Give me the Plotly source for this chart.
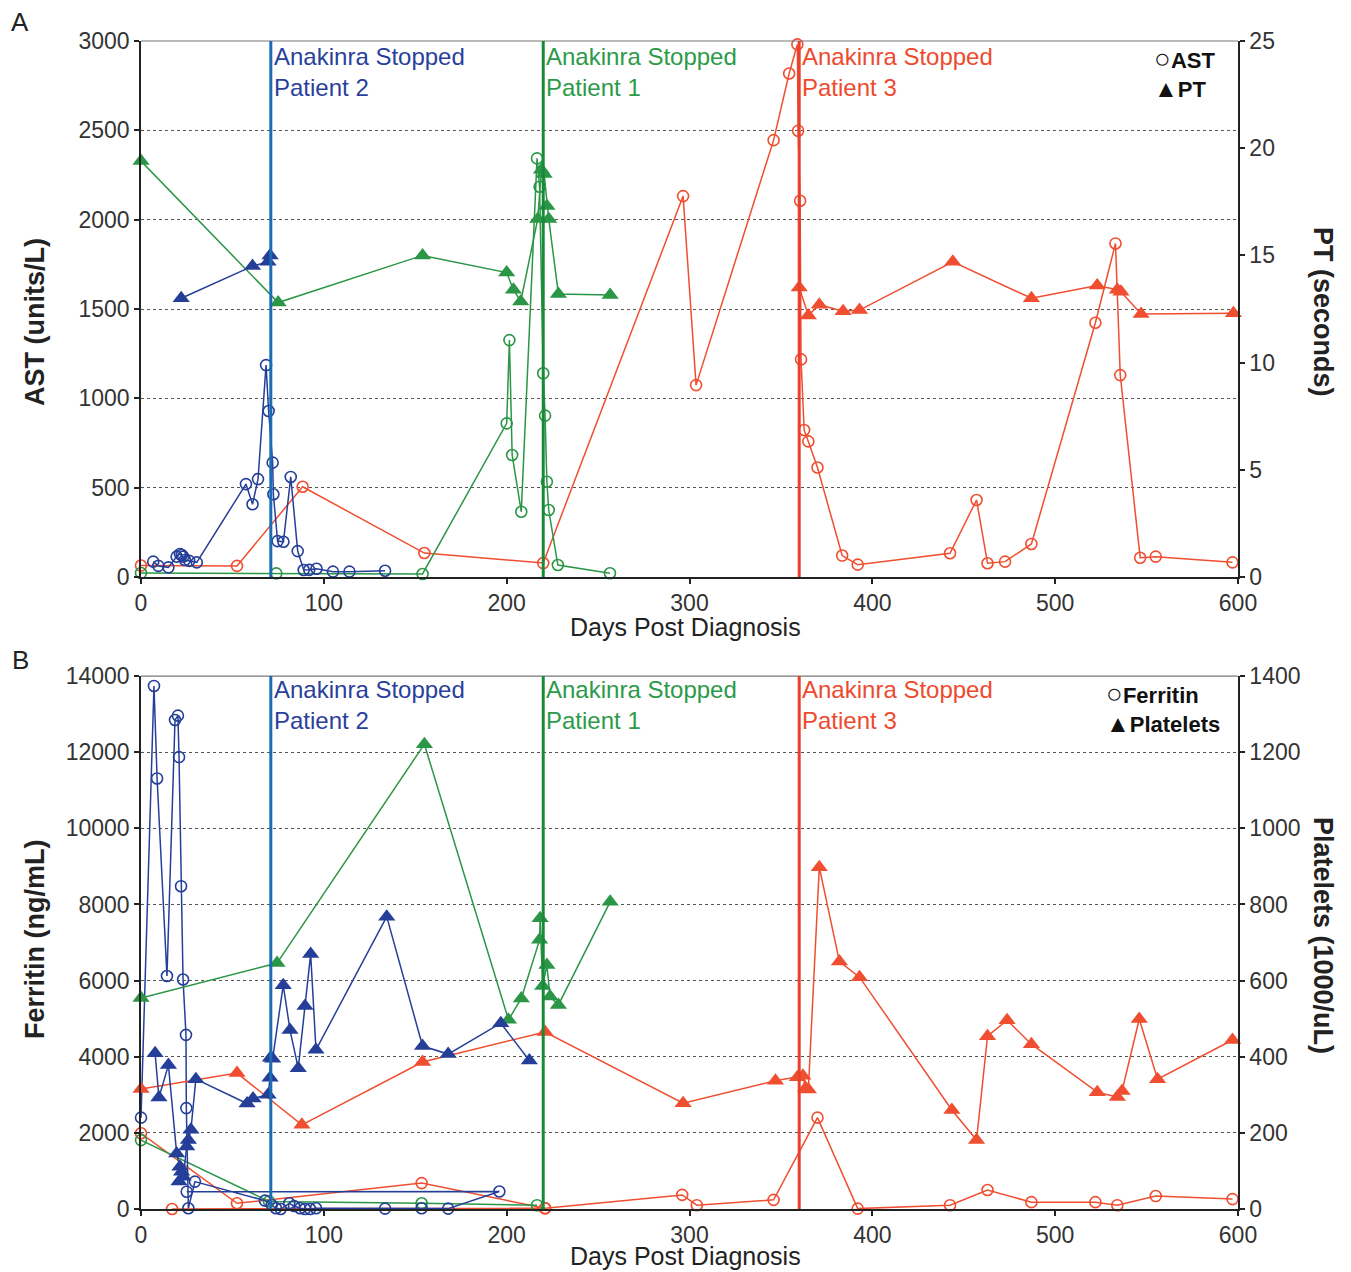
import plotly.graph_objects as go

# ---------------- DATA ----------------
# Days when Anakinra was stopped (Patient 2, Patient 1, Patient 3)
stop_days = [71, 220, 360]
stop_labels = ["Anakinra Stopped<br>Patient 2", "Anakinra Stopped<br>Patient 1", "Anakinra Stopped<br>Patient 3"]

# Panel A - AST (units/L) and PT (seconds)
p2_ast_days = [6.7, 9.5, 15, 19.5, 21.3, 22.3, 23.1, 24, 26.4, 30.5, 57.4, 61, 64, 68.4, 69.8, 72, 72.4,
               74.7, 77.9, 81.9, 85.7, 89, 92, 96, 105, 114, 133.5]
p2_ast = [86, 62, 54, 114, 129, 123, 114, 95, 90, 82, 520, 407, 548, 1186, 929, 640, 463,
          201, 197, 560, 145, 39, 40, 46, 30, 30, 35]
p2_pt_days = [22, 61, 69.5, 70.6]
p2_pt = [13.0, 14.5, 14.7, 15.0]

p1_ast_days = [0, 74, 154, 200, 201.5, 203, 208, 216.6, 218, 220, 221, 222, 223, 228, 256.5]
p1_ast = [22, 20, 17, 860, 1326, 683, 365, 2343, 2184, 1140, 903, 533, 375, 67, 21]
p1_pt_days = [0, 75, 154, 200, 203.7, 207.7, 217, 219, 220.5, 222, 223, 228.3, 256.6]
p1_pt = [19.4, 12.8, 15.0, 14.2, 13.4, 12.85, 16.7, 19.0, 18.8, 17.3, 16.7, 13.2, 13.15]

p3_ast_days = [0, 52.5, 88.4, 155, 220, 296.5, 303.6, 346, 354.5, 359, 359.4, 360.5, 361, 362.7, 365,
               370, 383.5, 392, 442.5, 457, 463, 472.6, 487, 522, 533, 535.6, 546.5, 555, 597]
p3_ast = [64, 62, 505, 134, 78, 2132, 1074, 2445, 2818, 2981, 2498, 2106, 1218, 823, 759,
          613, 120, 69, 133, 431, 77, 86, 185, 1423, 1867, 1130, 108, 114, 82]
p3_pt_days = [360, 365, 371, 384, 393, 444, 487, 523, 534, 536, 547, 597.5]
p3_pt = [13.5, 12.2, 12.7, 12.4, 12.45, 14.7, 13.0, 13.6, 13.4, 13.3, 12.27, 12.3]

# Panel B - Ferritin (ng/mL) and Platelets (1000/uL)
p2_fer_days = [0, 7.1, 8.8, 14.2, 18.6, 20.2, 20.8, 21.9, 23, 24.6, 24.8, 25.9, 29.5, 67.8, 71.5, 73.8,
               76.4, 81.1, 83.7, 87, 89.7, 92.5, 95.7, 133.5, 153.5, 168, 196, 25]
p2_fer = [2400, 13740, 11310, 6120, 12845, 12960, 11870, 8480, 6030, 4575, 2650, 20, 720, 220, 105, 20,
          0, 150, 80, 20, 0, 0, 20, 10, 20, 10, 460, 455]
p2_plt_days = [7.7, 9.8, 15, 19.5, 21.3, 20.8, 22.2, 23.1, 25, 25.9, 27.3, 30, 58, 61.3, 69.5, 70.6,
               70.8, 72, 77.8, 81.5, 86, 89.7, 92.8, 95.7, 134.4, 154, 168, 196.8, 212.4]
p2_plt = [409, 293, 378, 146, 111, 72, 98, 85, 164, 181, 208, 341, 277, 290, 300, 345,
          397, 395, 588, 470, 370, 533, 670, 418, 768, 428, 407, 488, 390]

p1_fer_days = [0, 70, 153.5, 216.6]
p1_fer = [1810, 200, 150, 100]
p1_plt_days = [0, 74.4, 155, 201, 208, 218, 218.3, 219.7, 222, 223.7, 228.3, 256.6]
p1_plt = [554, 646, 1221, 497, 553, 707, 764, 586, 641, 558, 536, 807]

p3_fer_days = [0, 52.5, 153.5, 221, 17, 221, 296, 304, 346, 370, 392, 442.5, 463, 487, 522, 534, 555, 597]
p3_fer = [1990, 150, 680, 20, 0, 20, 370, 100, 240, 2400, 10, 100, 500, 180, 180, 100, 340, 260]
p3_plt_days = [0, 52.5, 88, 154, 221, 296.5, 347, 359, 362, 363.5, 365, 371, 382, 393, 443.5, 457,
               463, 473.7, 487, 523, 534, 536.6, 546, 556, 597]
p3_plt = [315, 357, 221, 386, 465, 278, 337, 346, 350, 318, 314, 898, 650, 609, 260, 181,
          454, 496, 433, 307, 294, 310, 499, 341, 444]

x_ticks = [0, 100, 200, 300, 400, 500, 600]

# ---------------- STYLE ----------------
BLUE = "#253f99"
GREEN = "#2a9646"
ORANGE = "#f04e30"
VLINE = ["#1b6cb5", "#1a8a3a", "#ea3f2a"]
VTEXT = ["#2a3f9c", "#2c9a48", "#ee4a2e"]
FONT = "Liberation Sans, Arial, Helvetica, sans-serif"

fig = go.Figure()


def add_series(x, y, color, symbol, xa, ya):
    if symbol == "circle-open":
        marker = dict(symbol="circle-open", size=11, color=color, line=dict(width=1.6, color=color))
    else:
        marker = dict(symbol="triangle-up", size=15, color=color, line=dict(width=0))
    fig.add_trace(go.Scatter(x=x, y=y, mode="lines+markers", line=dict(color=color, width=1.5),
                             marker=marker, xaxis=xa, yaxis=ya, showlegend=False, cliponaxis=False))


# Panel A
add_series(p1_pt_days, p1_pt, GREEN, "triangle-up", "x", "y2")
add_series(p2_pt_days, p2_pt, BLUE, "triangle-up", "x", "y2")
add_series(p3_pt_days, p3_pt, ORANGE, "triangle-up", "x", "y2")
add_series(p3_ast_days, p3_ast, ORANGE, "circle-open", "x", "y")
add_series(p1_ast_days, p1_ast, GREEN, "circle-open", "x", "y")
add_series(p2_ast_days, p2_ast, BLUE, "circle-open", "x", "y")

# Panel B
add_series(p3_fer_days, p3_fer, ORANGE, "circle-open", "x2", "y3")
add_series(p1_fer_days, p1_fer, GREEN, "circle-open", "x2", "y3")
add_series(p2_fer_days, p2_fer, BLUE, "circle-open", "x2", "y3")
add_series(p3_plt_days, p3_plt, ORANGE, "triangle-up", "x2", "y4")
add_series(p1_plt_days, p1_plt, GREEN, "triangle-up", "x2", "y4")
add_series(p2_plt_days, p2_plt, BLUE, "triangle-up", "x2", "y4")

tickfont = dict(family=FONT, size=23, color="#333")
axline = dict(showline=True, linecolor="#222", linewidth=1.5, ticks="outside", ticklen=5,
              tickcolor="#222", tickwidth=1.5, tickfont=tickfont, zeroline=False, tickformat="d")

yA = [0.5411, 1.0]
yB = [0.0, 0.4563]

# the page body adds an 8px margin, so the figure is sized to fit the 1351x1272 window
fig.update_layout(
    width=1343, height=1264,
    margin=dict(l=133, r=113, t=33, b=63),
    paper_bgcolor="white", plot_bgcolor="white",
    font=dict(family=FONT, color="#333"),
    xaxis=dict(domain=[0, 1], anchor="y", range=[0, 600], tickvals=x_ticks, showgrid=False, **axline),
    yaxis=dict(domain=yA, anchor="x", range=[0, 3000], dtick=500, showgrid=True,
               gridcolor="#555", griddash="dot", gridwidth=1, **axline),
    yaxis2=dict(overlaying="y", anchor="x", side="right", range=[0, 25], dtick=5, showgrid=False, **axline),
    xaxis2=dict(domain=[0, 1], anchor="y3", range=[0, 600], tickvals=x_ticks, showgrid=False, **axline),
    yaxis3=dict(domain=yB, anchor="x2", range=[0, 14000], dtick=2000, showgrid=True,
                gridcolor="#555", griddash="dot", gridwidth=1, **axline),
    yaxis4=dict(overlaying="y3", anchor="x2", side="right", range=[0, 1400], dtick=200, showgrid=False, **axline),
)

shapes = []
annotations = []
for (xa, ya), ys in zip([("x", "y"), ("x2", "y3")], [0, 2]):
    # top border
    shapes.append(dict(type="line", xref=xa + " domain", yref=ya + " domain", x0=0, x1=1, y0=1, y1=1,
                       line=dict(color="#777", width=1.2)))
    for d, lab, lc, tc in zip(stop_days, stop_labels, VLINE, VTEXT):
        shapes.append(dict(type="line", xref=xa, yref=ya + " domain", x0=d, x1=d, y0=0, y1=1,
                           line=dict(color=lc, width=3)))
        annotations.append(dict(x=d, y=1, xref=xa, yref=ya + " domain", text=lab, showarrow=False,
                                xanchor="left", yanchor="top", align="left", xshift=1, yshift=ys,
                                font=dict(family=FONT, size=24, color=tc)))

fig.update_layout(shapes=shapes)


def ann(text, x, y, size, bold=False, angle=0, xanchor="center", yanchor="middle", color="#222", align="center"):
    annotations.append(dict(text=("<b>%s</b>" % text) if bold else text, x=x, y=y, xref="paper", yref="paper",
                            showarrow=False, textangle=angle, xanchor=xanchor, yanchor=yanchor, align=align,
                            font=dict(family=FONT, size=size, color=color)))


ann("AST (units/L)", -0.0966, 0.7594, 27, bold=True, angle=-90)
ann("PT (seconds)", 1.0775, 0.768, 27, bold=True, angle=90)
ann("Ferritin (ng/mL)", -0.0966, 0.2303, 27, bold=True, angle=-90)
ann("Platelets (1000/uL)", 1.0775, 0.2346, 27, bold=True, angle=90)
ann("Days Post Diagnosis", 0.4968, 0.4985, 25)
ann("Days Post Diagnosis", 0.4968, -0.0405, 25)
ann("A", -0.1103, 1.016, 26)
ann("B", -0.1103, 0.470, 26)

# legend keys (one text block per panel)
CIRC = "<span style='font-size:28px'>○</span>"
TRI = "<span style='font-size:24px'>▲</span>"
ann(CIRC + "AST<br>" + TRI + "PT", 0.9215, 1.0, 22, bold=True, xanchor="left", yanchor="top",
    color="#111", align="left")
ann(CIRC + "Ferritin<br>" + TRI + "Platelets", 0.8778, 0.4563, 22, bold=True, xanchor="left",
    yanchor="top", color="#111", align="left")

fig.update_layout(annotations=annotations)

fig.write_html("out.html")
